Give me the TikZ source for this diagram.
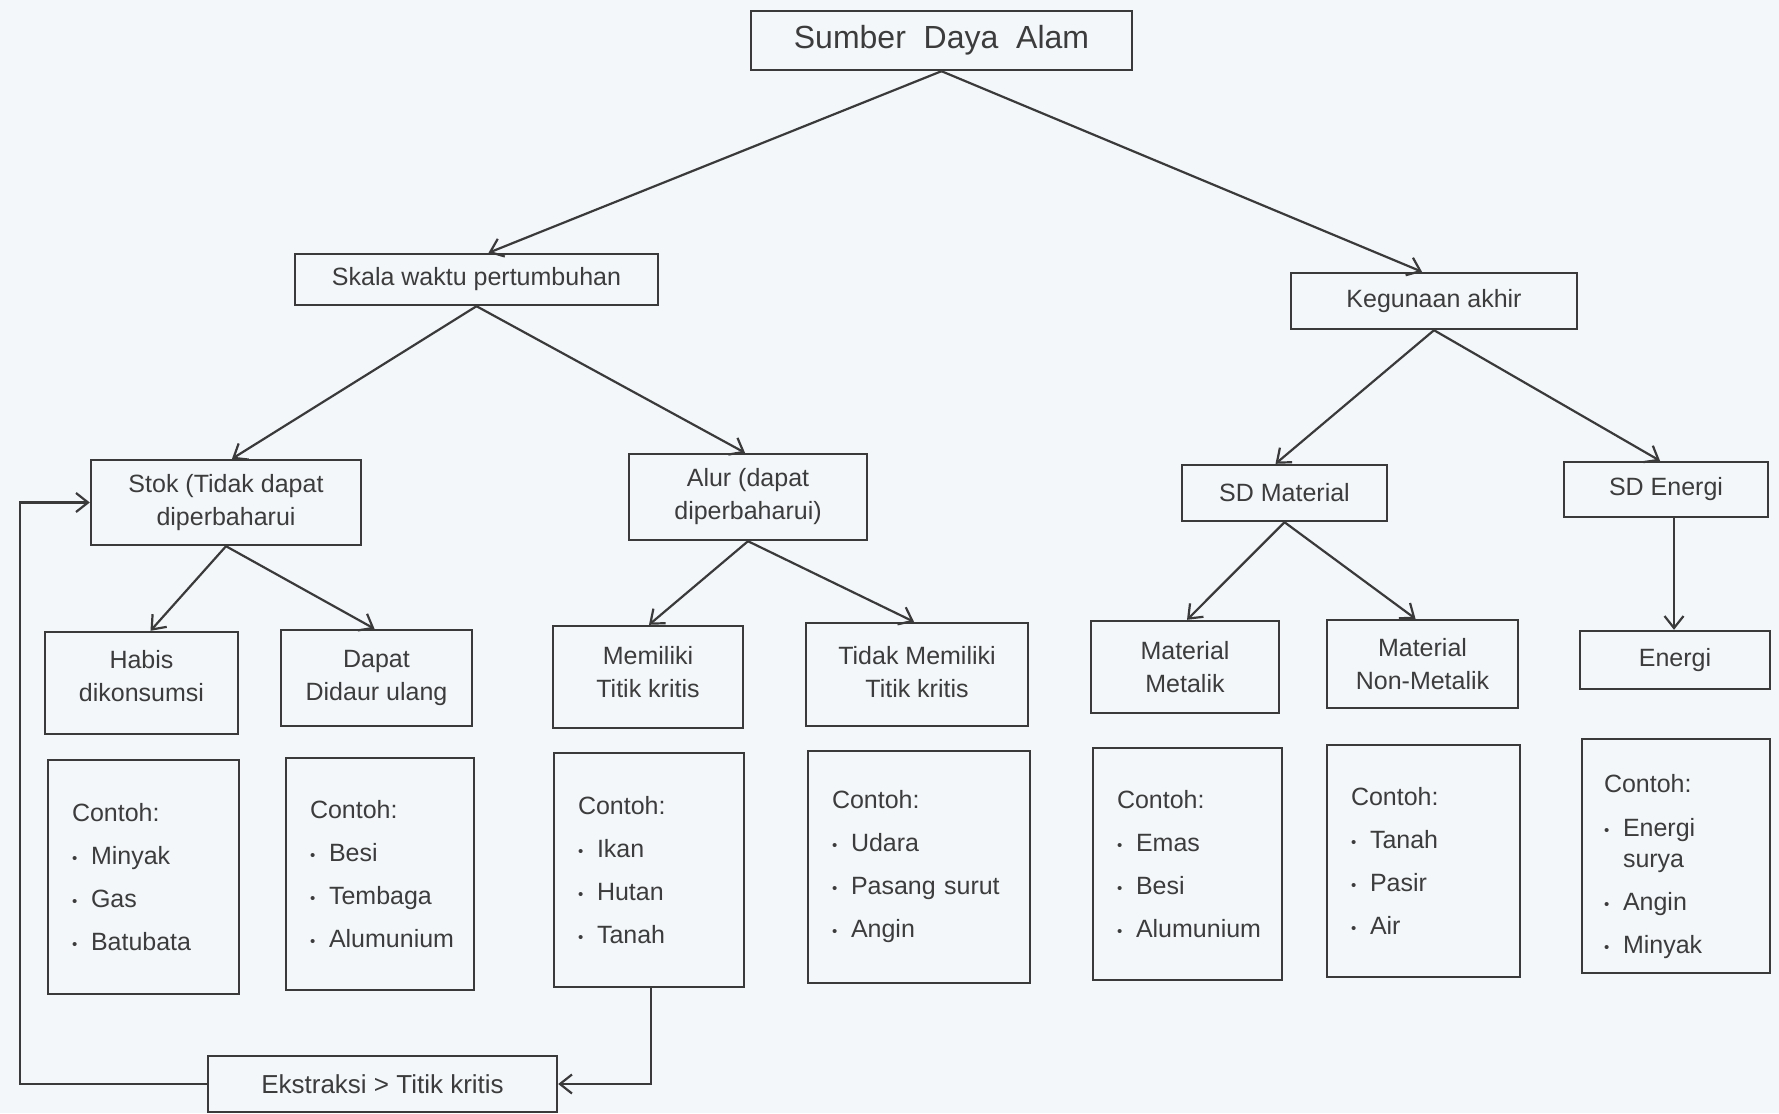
\documentclass[tikz,border=0pt]{standalone}
\usepackage{fontspec}
\setmainfont{Liberation Sans}
\usetikzlibrary{arrows.meta,calc}
\definecolor{bgc}{HTML}{F3F7FA}
\definecolor{lnc}{HTML}{3A3A3A}
\definecolor{txc}{HTML}{3C3C3C}
\newcommand\itm{\makebox[19pt][l]{\fontsize{15}{15}\selectfont\raisebox{1pt}{•}}}
\begin{document}
\begin{tikzpicture}[x=1pt,y=-1pt,
  box/.style={draw=lnc, line width=2.4pt, text=txc, inner sep=0pt, align=center,
    font=\fontsize{25}{33}\selectfont},
  exbox/.style={draw=lnc, line width=2.4pt, text=txc, inner xsep=24pt, inner ysep=0pt, align=left,
    font=\fontsize{25}{43}\selectfont},
  arr/.style={draw=lnc, line width=2.2pt, -{Straight Barb[length=12pt,width=19pt,line width=2.2pt]}}
]
\fill[bgc] (0,0) rectangle (1779,1113);
\useasboundingbox (0,0) rectangle (1779,1113);

\node[box, minimum width=381pt, minimum height=59pt, font=\fontsize{32}{38}\selectfont] (sda) at (941.5,40.5) {Sumber\ \ Daya\ \ Alam};
\node[box, minimum width=363pt, minimum height=51pt] (skala) at (476.5,279.5) {Skala waktu pertumbuhan};
\node[box, minimum width=286pt, minimum height=56pt] (keg) at (1434,301) {Kegunaan akhir};
\node[box, minimum width=270pt, minimum height=85pt] (stok) at (226,502.5) {Stok (Tidak dapat\\diperbaharui};
\node[box, minimum width=238pt, minimum height=86pt] (alur) at (748,497) {Alur (dapat\\diperbaharui)};
\node[box, minimum width=205pt, minimum height=56pt] (sdm) at (1284.5,493) {SD Material};
\node[box, minimum width=204pt, minimum height=55pt] (sde) at (1666,489.5) {SD Energi};

\node[box, minimum width=193pt, minimum height=102pt] (habis) at (141.5,683) {Habis\\dikonsumsi\rule[-14pt]{0pt}{0pt}};
\node[box, minimum width=191pt, minimum height=96pt] (dapat) at (376.5,678) {Dapat\\Didaur ulang};
\node[box, minimum width=190pt, minimum height=102pt] (mem) at (648,677) {Memiliki\\Titik kritis\rule[-10pt]{0pt}{0pt}};
\node[box, minimum width=222pt, minimum height=103pt] (tidak) at (917,674.5) {Tidak Memiliki\\Titik kritis\rule[-5pt]{0pt}{0pt}};
\node[box, minimum width=188pt, minimum height=92pt] (met) at (1185,667) {Material\\Metalik};
\node[box, minimum width=191pt, minimum height=88pt] (nonmet) at (1422.5,664) {Material\\Non-Metalik};
\node[box, minimum width=190pt, minimum height=58pt] (energi) at (1675,660) {Energi};

\node[exbox, text width=143pt, minimum height=234pt] (c1) at (143.5,877) {Contoh:\\\itm Minyak\\\itm Gas\\\itm Batubata};
\node[exbox, text width=140pt, minimum height=232pt] (c2) at (380,874) {Contoh:\\\itm Besi\\\itm Tembaga\\\itm Alumunium};
\node[exbox, text width=142pt, minimum height=234pt] (c3) at (649,870) {Contoh:\\\itm Ikan\\\itm Hutan\\\itm Tanah};
\node[exbox, text width=174pt, minimum height=232pt] (c4) at (919,867) {Contoh:\\\itm Udara\\\itm Pasang surut\\\itm Angin};
\node[exbox, text width=141pt, minimum height=232pt] (c5) at (1187.5,864) {Contoh:\\\itm Emas\\\itm Besi\\\itm Alumunium};
\node[exbox, text width=145pt, minimum height=232pt] (c6) at (1423.5,861) {Contoh:\\\itm Tanah\\\itm Pasir\\\itm Air};
\node[exbox, text width=144pt, minimum height=234pt, inner xsep=22pt] (c7) at (1676,856) {\rule{0pt}{40pt}Contoh:\\[1pt]\itm Energi\\[-12pt]\hspace*{19pt}surya\\\itm Angin\\\itm Minyak};

\node[box, minimum width=349pt, minimum height=56pt, font=\fontsize{26}{30}\selectfont] (ext) at (382.5,1084) {Ekstraksi > Titik kritis};

\coordinate (lp) at (20,0);

\draw[arr] (sda.south) -- ($(skala.north)+(12,0)$);
\draw[arr] (sda.south) -- ($(keg.north)+(-12,0)$);
\draw[arr] (skala.south) -- ($(stok.north)+(6,0)$);
\draw[arr] (skala.south) -- ($(alur.north)+(-3,0)$);
\draw[arr] (keg.south) -- ($(sdm.north)+(-9,0)$);
\draw[arr] (keg.south) -- ($(sde.north)+(-6,0)$);
\draw[arr] (stok.south) -- ($(habis.north)+(9,0)$);
\draw[arr] (stok.south) -- ($(dapat.north)+(-2,0)$);
\draw[arr] (alur.south) -- ($(mem.north)+(1,0)$);
\draw[arr] (alur.south) -- ($(tidak.north)+(-3,0)$);
\draw[arr] (sdm.south) -- ($(met.north)+(2,0)$);
\draw[arr] (sdm.south) -- ($(nonmet.north)+(-7,0)$);
\draw[arr] ($(sde.south)+(8,0)$) -- ($(energi.north)+(-1,0)$);

\draw[arr] (ext.west) -| (lp |- stok.west) -- (stok.west);
\draw[arr] ($(c3.south)+(2,0)$) |- (ext.east);
\end{tikzpicture}
\end{document}
